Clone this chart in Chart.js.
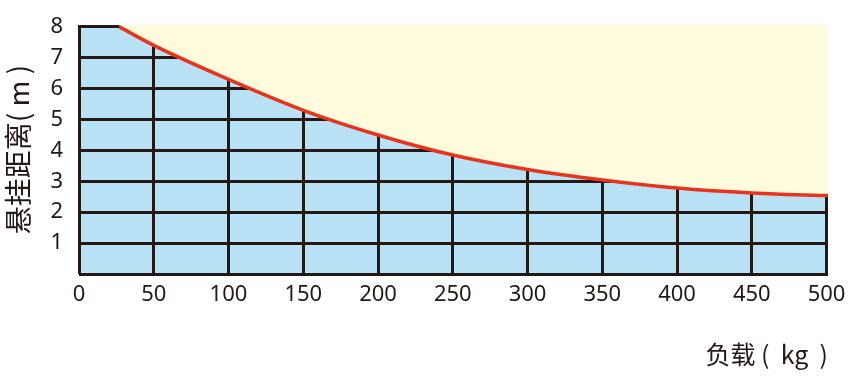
<!DOCTYPE html>
<html>
<head>
<meta charset="utf-8">
<script src="https://cdn.jsdelivr.net/npm/chart.js@4"></script>
<style>
  html, body { margin: 0; padding: 0; background: #fff; }
  #wrap { width: 855px; height: 379px; }
</style>
</head>
<body>
<div id="wrap"><canvas id="loadChart"></canvas></div>
<script>
// load (kg) vs hanging distance (m)
var loads = [27, 50, 100, 150, 200, 250, 300, 350, 400, 450, 500, 501];
var distances = [8, 7.4, 6.3, 5.3, 4.5, 3.85, 3.38, 3.04, 2.78, 2.62, 2.54, 2.54];
var xTicks = [0, 50, 100, 150, 200, 250, 300, 350, 400, 450, 500];
var yTicks = [0, 1, 2, 3, 4, 5, 6, 7, 8];

var gridColor = '#231815';
var cjk = '"Noto Sans CJK SC", "Noto Sans", sans-serif';

// light blue panel under the grid, from 0..500 / 0..8
var panelFill = {
    id: 'panelFill',
    beforeDraw: function (chart) {
        var x = chart.scales.x, y = chart.scales.y, ctx = chart.ctx;
        var l = x.getPixelForValue(xTicks[0]);
        var r = x.getPixelForValue(xTicks[xTicks.length - 1]);
        var t = y.getPixelForValue(yTicks[yTicks.length - 1]);
        var b = y.getPixelForValue(yTicks[0]);
        ctx.save();
        ctx.fillStyle = '#bae2f7';
        ctx.fillRect(l, t, r - l, b - t);
        ctx.restore();
    }
};

var ctx = document.getElementById('loadChart').getContext('2d');

new Chart(ctx, {
    type: 'line',
    data: {
        datasets: [{
            data: loads.map(function (v, i) { return { x: v, y: distances[i] }; }),
            borderColor: '#e8341c',
            borderWidth: 3.5,
            backgroundColor: '#fffbdc',
            fill: 'end',
            pointRadius: 0,
            cubicInterpolationMode: 'monotone'
        }]
    },
    plugins: [panelFill],
    options: {
        responsive: true,
        maintainAspectRatio: false,
        animation: false,
        layout: { padding: { top: 25, right: 27, bottom: 0, left: 0 } },
        plugins: {
            legend: { display: false },
            tooltip: { enabled: false }
        },
        scales: {
            x: {
                type: 'linear',
                min: 0,
                max: 501,
                afterBuildTicks: function (axis) {
                    axis.ticks = xTicks.map(function (v) { return { value: v }; });
                },
                afterFit: function (axis) {
                    axis.height = 105;
                    axis.paddingLeft = 0;
                    axis.paddingRight = 0;
                },
                grid: { color: gridColor, lineWidth: 3, drawTicks: false },
                border: { display: false },
                ticks: {
                    autoSkip: false,
                    maxRotation: 0,
                    padding: 8,
                    color: gridColor,
                    font: { family: '"Noto Sans", sans-serif', size: 22 }
                },
                title: {
                    display: true,
                    text: '负载 (  kg  )',
                    align: 'end',
                    color: gridColor,
                    font: { family: cjk, size: 25 },
                    padding: { top: 0, bottom: 10 }
                }
            },
            y: {
                min: 0,
                max: 8.06,
                afterBuildTicks: function (axis) {
                    axis.ticks = yTicks.map(function (v) { return { value: v }; });
                },
                afterFit: function (axis) {
                    axis.width = 79;
                    axis.paddingTop = 0;
                    axis.paddingBottom = 0;
                },
                grid: { color: gridColor, lineWidth: 3, drawTicks: false },
                border: { display: false },
                ticks: {
                    padding: 16,
                    color: gridColor,
                    font: { family: '"Noto Sans", sans-serif', size: 22 },
                    callback: function (v) { return v === 0 ? '' : v; }
                },
                title: {
                    display: true,
                    text: '悬挂距离( m )',
                    color: gridColor,
                    font: { family: cjk, size: 28 },
                    padding: { top: 2, bottom: 0 }
                }
            }
        }
    }
});
</script>
</body>
</html>
